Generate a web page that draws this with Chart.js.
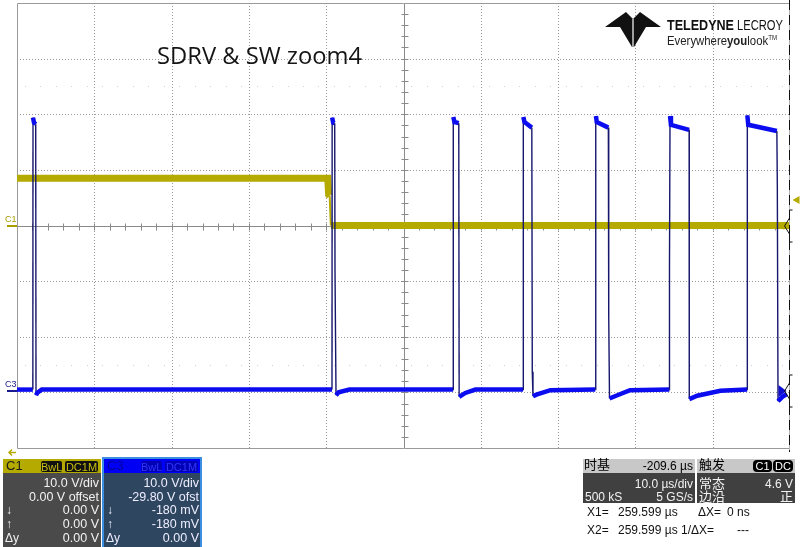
<!DOCTYPE html>
<html>
<head>
<meta charset="utf-8">
<script src="https://cdn.jsdelivr.net/npm/chart.js@4.4.0/dist/chart.umd.min.js"></script>
<style>
  body { margin: 0; background: #fff; width: 800px; height: 547px; overflow: hidden; position: relative;
         font-family: "Liberation Sans", Arial, sans-serif; }
  #scope { position: absolute; left: 0; top: 0; }
  .box { position: absolute; }
  .t { position: absolute; font-size: 12px; line-height: 14px; white-space: nowrap; }
  .r { text-align: right; }
  .cjk { font-family: "Noto Sans CJK SC", sans-serif; font-size: 13px; }
  .tag { position: absolute; top: 1px; height: 13px; line-height: 12px; font-size: 11px; text-align: center;
         border-radius: 3px; box-sizing: border-box; overflow: hidden; }
</style>
</head>
<body>
<canvas id="scope" width="800" height="547"></canvas>

<svg width="800" height="547" style="position:absolute;left:0;top:0;pointer-events:none">
  <text x="157" y="64" font-family="Open Sans" font-size="23" fill="#151515" textLength="205" lengthAdjust="spacingAndGlyphs">SDRV &amp; SW zoom4</text>
  <polygon points="605,27 626,12 633,19 640,12 661,27 646,27 634,47 632,47 620,27" fill="#111"/>
  <line x1="633" y1="19" x2="633" y2="47" stroke="#fff" stroke-width="1.2"/>
  <text x="667" y="30" font-family="Liberation Sans" font-weight="bold" font-size="15" fill="#111" textLength="67" lengthAdjust="spacingAndGlyphs">TELEDYNE</text>
  <text x="737" y="30" font-family="Liberation Sans" font-size="15" fill="#111" textLength="46" lengthAdjust="spacingAndGlyphs">LECROY</text>
  <text x="667" y="45" font-family="Liberation Sans" font-size="13" fill="#222" textLength="110" lengthAdjust="spacingAndGlyphs">Everywhere<tspan font-weight="bold">you</tspan>look<tspan font-size="7" dy="-5">TM</tspan></text>
</svg>

<!-- C1 panel -->
<div class="box" style="left:3px;top:459px;width:98px;height:14px;background:#b4aa00"></div>
<div class="box" style="left:3px;top:473px;width:98px;height:74px;background:#4a4a4a"></div>
<div class="t" style="left:6px;top:459px;color:#1a1a1a;font-size:13px">C1</div>
<div class="tag" style="left:40px;top:460px;width:23px;background:#111;border:1px solid #b4aa00;color:#c8be10">BwL</div>
<div class="tag" style="left:64px;top:460px;width:35px;background:#111;border:1px solid #b4aa00;color:#c8be10">DC1M</div>
<div class="t r" style="left:3px;width:96px;top:476px;color:#f2f2f2;font-size:12.5px">10.0 V/div</div>
<div class="t r" style="left:3px;width:96px;top:490px;color:#f2f2f2;font-size:12.5px">0.00 V offset</div>
<div class="t" style="left:6px;top:503px;color:#f2f2f2">&#8595;</div>
<div class="t r" style="left:3px;width:96px;top:503px;color:#f2f2f2;font-size:12.5px">0.00 V</div>
<div class="t" style="left:6px;top:517px;color:#f2f2f2">&#8593;</div>
<div class="t r" style="left:3px;width:96px;top:517px;color:#f2f2f2;font-size:12.5px">0.00 V</div>
<div class="t" style="left:5px;top:531px;color:#f2f2f2">&#916;y</div>
<div class="t r" style="left:3px;width:96px;top:531px;color:#f2f2f2;font-size:12.5px">0.00 V</div>

<!-- C3 panel -->
<div class="box" style="left:102px;top:457px;width:100px;height:90px;background:#3c8ee0"></div>
<div class="box" style="left:104px;top:459px;width:96px;height:14px;background:#0000f4"></div>
<div class="box" style="left:104px;top:473px;width:96px;height:74px;background:#2e465f"></div>
<div class="t" style="left:107px;top:459px;color:#0000a0;font-size:13px">C3</div>
<div class="tag" style="left:140px;top:460px;width:23px;background:#0000b4;border:1px solid #0000ff;color:#3434ff">BwL</div>
<div class="tag" style="left:164px;top:460px;width:35px;background:#0000b4;border:1px solid #0000ff;color:#3434ff">DC1M</div>
<div class="t r" style="left:104px;width:95px;top:476px;color:#eef;font-size:12.5px">10.0 V/div</div>
<div class="t r" style="left:104px;width:95px;top:490px;color:#eef;font-size:12.5px">-29.80 V ofst</div>
<div class="t" style="left:107px;top:503px;color:#eef">&#8595;</div>
<div class="t r" style="left:104px;width:95px;top:503px;color:#eef;font-size:12.5px">-180 mV</div>
<div class="t" style="left:107px;top:517px;color:#eef">&#8593;</div>
<div class="t r" style="left:104px;width:95px;top:517px;color:#eef;font-size:12.5px">-180 mV</div>
<div class="t" style="left:106px;top:531px;color:#eef">&#916;y</div>
<div class="t r" style="left:104px;width:95px;top:531px;color:#eef;font-size:12.5px">0.00 V</div>

<!-- timebase panel -->
<div class="box" style="left:583px;top:459px;width:112px;height:14px;background:#c8c8c8"></div>
<div class="box" style="left:583px;top:473px;width:112px;height:30px;background:#404040"></div>
<div class="t cjk" style="left:584px;top:457px;color:#000">时基</div>
<div class="t r" style="left:583px;width:110px;top:459px;color:#000">-209.6 µs</div>
<div class="t r" style="left:583px;width:110px;top:477px;color:#f2f2f2">10.0 µs/div</div>
<div class="t" style="left:585px;top:490px;color:#f2f2f2">500 kS</div>
<div class="t r" style="left:583px;width:110px;top:490px;color:#f2f2f2">5 GS/s</div>

<!-- trigger panel -->
<div class="box" style="left:697px;top:459px;width:98px;height:14px;background:#c8c8c8"></div>
<div class="box" style="left:697px;top:473px;width:98px;height:30px;background:#404040"></div>
<div class="t cjk" style="left:699px;top:457px;color:#000">触发</div>
<div class="tag" style="left:753px;top:460px;width:19px;height:12px;line-height:12px;background:#000;color:#fff;border-radius:4px">C1</div>
<div class="tag" style="left:773px;top:460px;width:20px;height:12px;line-height:12px;background:#000;color:#fff;border-radius:4px">DC</div>
<div class="t cjk" style="left:699px;top:476px;color:#f2f2f2">常态</div>
<div class="t r" style="left:697px;width:96px;top:477px;color:#f2f2f2">4.6 V</div>
<div class="t cjk" style="left:699px;top:489px;color:#f2f2f2">边沿</div>
<div class="t cjk r" style="left:697px;width:96px;top:489px;color:#f2f2f2">正</div>

<!-- cursors -->
<div class="t" style="left:587px;top:505px;color:#111">X1=</div>
<div class="t" style="left:618px;top:505px;color:#111">259.599 µs</div>
<div class="t" style="left:698px;top:505px;color:#111">&#916;X=</div>
<div class="t" style="left:727px;top:505px;color:#111">0 ns</div>
<div class="t" style="left:587px;top:523px;color:#111">X2=</div>
<div class="t" style="left:618px;top:523px;color:#111">259.599 µs</div>
<div class="t" style="left:681px;top:523px;color:#111">1/&#916;X=</div>
<div class="t" style="left:737px;top:523px;color:#111">---</div>

<script>
// time in µs, 10 µs/div
const c1Time = [0, 40.2, 40.32, 40.45, 40.6, 100];
const c1Volt = [8.5, 8.5, 5.5, 5.3, 0.0, 0.0];

const c3Time = [0, 2.05, 2.07, 2.2, 2.42, 2.46, 2.6, 3.2,
  40.75, 40.77, 40.9, 41.1, 41.14, 41.27, 41.6, 43.0,
  56.42, 56.44, 56.6, 57.15, 57.2, 58.0, 59.3,
  65.46, 65.5, 65.65, 66.6, 66.66, 66.75, 67.2, 69.0,
  74.8, 74.84, 74.9, 75.0, 76.5, 76.55, 76.65, 77.5, 79.3,
  84.4, 84.41, 84.48, 84.6, 86.95, 86.97, 88.0, 91.0,
  94.45, 94.48, 94.6, 98.3, 98.36, 98.45, 99.0, 99.6];
const c3Volt = [0.3, 0.3, 49.2, 48.3, 48.0, -0.7, -0.3, 0.3,
  0.3, 49.2, 48.3, 48.2, 21.4, -0.7, -0.2, 0.3,
  0.3, 49.3, 48.4, 48.2, -1.0, -0.3, 0.3,
  0.3, 49.3, 48.4, 47.4, 3.5, -0.9, -0.6, 0.2,
  0.3, 43.8, 49.5, 48.4, 47.4, 13.5, -1.3, -0.8, 0.2,
  0.3, 22.6, 49.5, 47.9, 47.0, -1.4, -0.8, 0.1,
  0.3, 49.6, 47.9, 46.8, 37.1, -1.8, -1.0, -0.5];

const c3Offset = -29.8;
const voltsPerDiv = 10;

const pts = (ts, vs) => ts.map((t, i) => ({x: t, y: vs[i]}));
const isEdge = c => Math.abs(c.p1.parsed.y - c.p0.parsed.y) > 3;

const scopeGrid = {
  id: 'scopeGrid',
  beforeDatasetsDraw(chart) {
    const {ctx, chartArea: a, scales: {x, y}} = chart;
    ctx.save();
    ctx.lineWidth = 1;
    // dotted divisions
    ctx.strokeStyle = '#9a9a9a';
    ctx.setLineDash([1, 2]);
    for (let t = 10; t < 100; t += 10) {
      if (t === 50) continue;
      const px = Math.round(x.getPixelForValue(t)) + 0.5;
      ctx.beginPath(); ctx.moveTo(px, a.top); ctx.lineTo(px, a.bottom); ctx.stroke();
    }
    for (let v = -30; v <= 30; v += 10) {
      if (v === 0) continue;
      const py = Math.round(y.getPixelForValue(v)) + 0.5;
      ctx.beginPath(); ctx.moveTo(a.left, py); ctx.lineTo(a.right, py); ctx.stroke();
    }
    // faint dot rows
    ctx.setLineDash([]);
    ctx.fillStyle = '#cfcfcf';
    [25, -25].forEach(v => {
      const py = Math.round(y.getPixelForValue(v));
      for (let t = 1; t < 100; t += 2) ctx.fillRect(Math.round(x.getPixelForValue(t)), py, 1, 1);
    });
    // centre cross with minor ticks
    ctx.strokeStyle = '#8a8a8a';
    const cx = Math.round(x.getPixelForValue(50)) + 0.5;
    const cy = Math.round(y.getPixelForValue(0)) + 0.5;
    ctx.beginPath();
    ctx.moveTo(cx, a.top); ctx.lineTo(cx, a.bottom);
    ctx.moveTo(a.left, cy); ctx.lineTo(a.right, cy);
    for (let t = 2; t < 100; t += 2) {
      const px = Math.round(x.getPixelForValue(t)) + 0.5;
      ctx.moveTo(px, cy - 3); ctx.lineTo(px, cy + 4);
    }
    for (let v = -38; v < 40; v += 2) {
      const py = Math.round(y.getPixelForValue(v)) + 0.5;
      ctx.moveTo(cx - 3, py); ctx.lineTo(cx + 4, py);
    }
    ctx.stroke();
    // frame
    ctx.strokeStyle = '#9a9a9a';
    ctx.beginPath();
    ctx.moveTo(a.right, a.top + 0.5); ctx.lineTo(a.left + 0.5, a.top + 0.5);
    ctx.lineTo(a.left + 0.5, a.bottom + 0.5); ctx.lineTo(a.right, a.bottom + 0.5);
    ctx.stroke();
    ctx.restore();
  },
  afterDatasetsDraw(chart) {
    const {ctx, chartArea: a, scales: {y}} = chart;
    ctx.save();
    const rx = Math.round(a.right) - 0.5;
    // right border: black dashes
    ctx.strokeStyle = '#b0b0b0';
    ctx.beginPath(); ctx.moveTo(rx, 0); ctx.lineTo(rx, a.bottom + 4); ctx.stroke();
    ctx.strokeStyle = '#111';
    ctx.setLineDash([10, 5]);
    ctx.beginPath(); ctx.moveTo(rx, 0); ctx.lineTo(rx, a.bottom + 4); ctx.stroke();
    ctx.setLineDash([]);

    const y1 = Math.round(y.getPixelForValue(0));
    const y3 = Math.round(y.getPixelForValue(c3Offset));
    const yTrig = Math.round(y.getPixelForValue(4.6));

    // trace end arrowheads
    ctx.fillStyle = '#b4aa00';
    ctx.beginPath(); ctx.moveTo(rx - 6, y1 - 4); ctx.lineTo(rx - 1, y1); ctx.lineTo(rx - 6, y1 + 4); ctx.fill();
    ctx.fillStyle = '#1010d0';
    ctx.beginPath(); ctx.moveTo(rx - 11, y3 - 6); ctx.lineTo(rx - 3, y3); ctx.lineTo(rx - 11, y3 + 6); ctx.fill();

    // notch markers on the right edge
    ctx.strokeStyle = '#111';
    ctx.lineWidth = 1;
    [y1, y3].forEach(cy => {
      const h = 16;
      ctx.beginPath();
      ctx.moveTo(rx + 3, cy - h); ctx.lineTo(rx, cy - h); ctx.lineTo(rx, cy - 8);
      ctx.lineTo(rx - 5, cy); ctx.lineTo(rx, cy + 8); ctx.lineTo(rx, cy + h); ctx.lineTo(rx + 3, cy + h);
      ctx.stroke();
    });

    // trigger level marker
    ctx.fillStyle = '#b4aa00';
    ctx.beginPath(); ctx.moveTo(rx + 3, yTrig); ctx.lineTo(rx + 10, yTrig - 4); ctx.lineTo(rx + 10, yTrig + 4); ctx.fill();

    // channel ground markers on the left
    ctx.font = '9px "Liberation Sans", Arial, sans-serif';
    ctx.textBaseline = 'alphabetic';
    ctx.fillStyle = '#a89e00';
    ctx.fillText('C1', 5, y1 - 4);
    ctx.fillRect(7, y1 - 1, a.left - 7, 2);
    ctx.fillStyle = '#1a1a90';
    ctx.fillText('C3', 5, y3 - 4);
    ctx.fillRect(7, y3 - 1, a.left - 7, 2);

    // horizontal position arrow below the grid
    ctx.strokeStyle = '#b4aa00';
    ctx.lineWidth = 1.5;
    ctx.beginPath();
    ctx.moveTo(16, a.bottom + 4.5); ctx.lineTo(9, a.bottom + 4.5);
    ctx.moveTo(12, a.bottom + 1.5); ctx.lineTo(9, a.bottom + 4.5); ctx.lineTo(12, a.bottom + 7.5);
    ctx.stroke();
    ctx.restore();
  }
};

new Chart(document.getElementById('scope'), {
  type: 'line',
  data: {
    datasets: [
      {
        label: 'C3',
        data: pts(c3Time, c3Volt),
        yAxisID: 'y3',
        borderColor: '#0c0cf0',
        borderWidth: 4.5,
        pointRadius: 0,
        segment: {
          borderWidth: c => isEdge(c) ? 1.4 : 4.5,
          borderColor: c => isEdge(c) ? '#17176e' : '#0c0cf0'
        }
      },
      {
        label: 'C1',
        data: pts(c1Time, c1Volt),
        yAxisID: 'y',
        borderColor: '#b4aa00',
        borderWidth: 7,
        pointRadius: 0,
        segment: {
          borderWidth: c => isEdge(c) ? 2 : 7
        }
      }
    ]
  },
  options: {
    responsive: false,
    animation: false,
    layout: { padding: { left: 17, right: 10, top: 3, bottom: 99 } },
    plugins: { legend: { display: false }, tooltip: { enabled: false } },
    scales: {
      x: { type: 'linear', min: 0, max: 100, display: false },
      y: { min: -4 * voltsPerDiv, max: 4 * voltsPerDiv, display: false },
      y3: { min: -4 * voltsPerDiv - c3Offset, max: 4 * voltsPerDiv - c3Offset, display: false }
    }
  },
  plugins: [scopeGrid]
});
</script>
</body>
</html>
